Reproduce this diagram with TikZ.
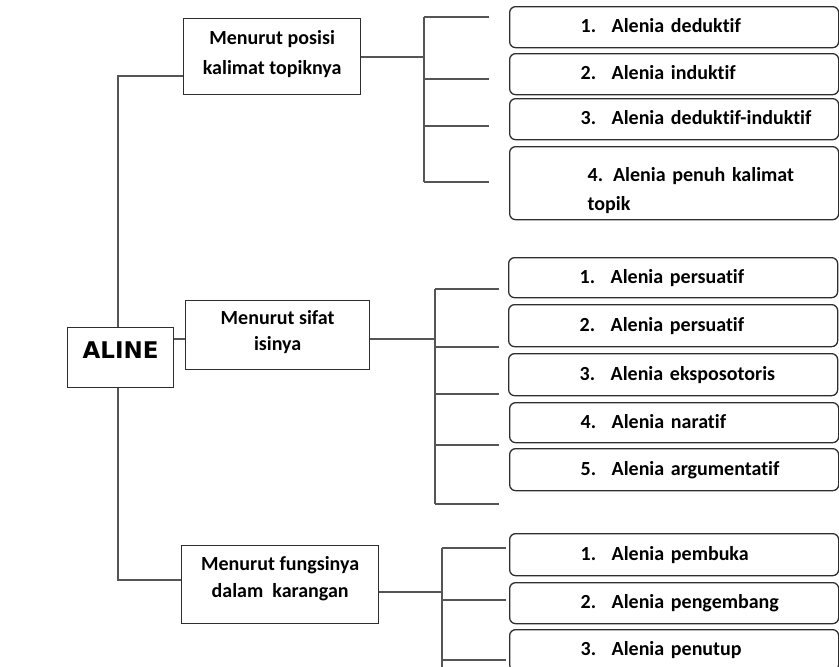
\documentclass[tikz,border=0pt]{standalone}
\usepackage{fontspec}
\setmainfont{Carlito}[Ligatures=NoCommon]
\newfontfamily\dejavu{DejaVu Sans}
\usepackage{tikz}

\definecolor{garis}{HTML}{555555}
\definecolor{tepi}{HTML}{2e2e2e}
\newcommand{\nomor}[2]{\hspace*{71pt}\makebox[31pt][l]{#1}#2}

\begin{document}
\begin{tikzpicture}[x=1pt,y=-1pt,
		font=\fontsize{20}{27}\selectfont\bfseries,
		kategori/.style={draw=tepi, fill=white, line width=1.3pt, anchor=north west, inner sep=0pt, align=center},
		butir/.style={draw=tepi, line width=1.3pt, rounded corners=6pt, anchor=north west, inner sep=0pt, text width=329pt, minimum height=41pt, align=left, text height=14pt, text depth=3pt},
		cabang/.style={draw=garis, line width=1.3pt}]
	\clip (0,0) rectangle (839,667);
	\node[kategori, minimum width=177pt, minimum height=76pt, text height=45pt, text depth=9pt] (posisi) at (183,18) {Menurut posisi\\[3pt]kalimat topiknya};
	\node[kategori, minimum width=184pt, minimum height=69pt, text height=40pt, text depth=9pt] (sifat) at (185,300) {Menurut sifat\\[-1pt]isinya};
	\node[kategori, minimum width=197pt, minimum height=78pt, text height=42pt, text depth=16pt] (fungsi) at (181,545) {Menurut fungsinya\\dalam\ \ karangan};

	\coordinate (t1) at (118,76);
	\coordinate (t3) at (118,580);
	\draw[cabang] (posisi.west |- t1) -- (t1) -- (t3) -- (fungsi.west |- t3);

	\node[kategori, minimum width=106pt, minimum height=60pt, text height=17pt, text depth=15pt, font=\dejavu\fontsize{23}{28}\selectfont\bfseries] (aline) at (67,327) {ALINE};
	\coordinate (t2) at (179,339);
	\draw[cabang] (aline.east |- t2) -- (sifat.west |- t2);

	\coordinate (g1) at (424,57);
	\draw[cabang] (posisi.east |- g1) -- (g1);
	\foreach \n/\y in {1/17,2/79,3/126,4/182}
		\coordinate (p\n) at (489,\y);
	\draw[cabang] (g1 |- p1) -- (g1 |- p4);
	\foreach \n in {1,...,4}
		\draw[cabang] (g1 |- p\n) -- (p\n);

	\coordinate (g2) at (435,339);
	\draw[cabang] (sifat.east |- g2) -- (g2);
	\foreach \n/\y in {1/289,2/347,3/394,4/445,5/504}
		\coordinate (q\n) at (499,\y);
	\draw[cabang] (g2 |- q1) -- (g2 |- q5);
	\foreach \n in {1,...,5}
		\draw[cabang] (g2 |- q\n) -- (q\n);

	\coordinate (g3) at (442,592);
	\coordinate (g3b) at (442,680);
	\draw[cabang] (fungsi.east |- g3) -- (g3);
	\foreach \n/\y in {1/548,2/600,3/660}
		\coordinate (r\n) at (506,\y);
	\draw[cabang] (g3 |- r1) -- (g3b);
	\foreach \n in {1,...,3}
		\draw[cabang] (g3 |- r\n) -- (r\n);

	\node[butir] (deduktif) at (509,6) {\nomor{1.}{Alenia deduktif}};
	\node[butir] (induktif) at (509,53) {\nomor{2.}{Alenia induktif}};
	\node[butir] (campuran) at (509,98) {\nomor{3.}{Alenia deduktif-induktif}};
	\node[butir, minimum height=73pt, text depth=17pt] (penuh) at (509,146) {\hspace*{78pt}4. Alenia penuh kalimat\\[2pt]\hspace*{78pt}topik};

	\node[butir, minimum height=40pt] (persuatif) at (508,257) {\nomor{1.}{Alenia persuatif}};
	\node[butir, minimum height=42pt] (persuatifb) at (508,304) {\nomor{2.}{Alenia persuatif}};
	\node[butir, minimum height=42pt] (eksposotoris) at (508,353) {\nomor{3.}{Alenia eksposotoris}};
	\node[butir, minimum height=40pt] (naratif) at (509,402) {\nomor{4.}{Alenia naratif}};
	\node[butir, minimum height=42pt] (argumentatif) at (509,448) {\nomor{5.}{Alenia argumentatif}};

	\node[butir, minimum height=42pt] (pembuka) at (509,533) {\nomor{1.}{Alenia pembuka}};
	\node[butir] (pengembang) at (509,582) {\nomor{2.}{Alenia pengembang}};
	\node[butir] (penutup) at (509,629) {\nomor{3.}{Alenia penutup}};
\end{tikzpicture}
\end{document}
